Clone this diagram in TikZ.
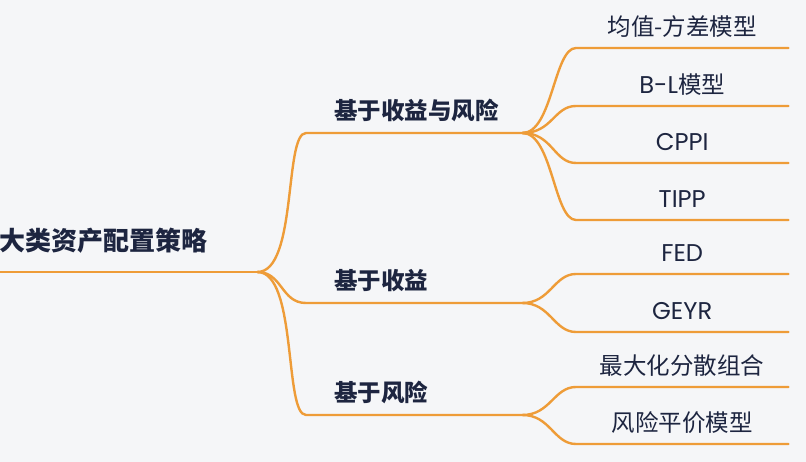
\documentclass[tikz,border=0pt]{standalone}
\usepackage{fontspec}
\setmainfont{Noto Sans CJK SC}
\newfontfamily\latinfont{Poppins}[Scale=1.03]
\definecolor{branchorange}{HTML}{EE9C38}
\definecolor{inkblue}{HTML}{1D2540}
\definecolor{paper}{HTML}{F5F6F8}

\begin{document}
\begin{tikzpicture}[x=1pt, y=-1pt,
    line/.style={branchorange, line width=2.4pt, line cap=round},
    rootbox/.style={anchor=south west, text width=258pt, align=left, inner xsep=0pt,
        inner ysep=21pt, text depth=0pt, text=inkblue,
        font=\fontsize{26}{30}\selectfont\bfseries},
    topic/.style={anchor=south west, text width=216pt, align=left, inner xsep=0pt,
        inner ysep=13pt, text depth=0pt, text=inkblue,
        font=\fontsize{23.5}{28}\selectfont\bfseries,
        execute at begin node=\hspace*{28pt}},
    leaf/.style={anchor=south west, text width=212pt, align=center, inner xsep=0pt,
        inner ysep=12pt, text depth=0pt, text=inkblue,
        font=\fontsize{23.5}{28}\selectfont}]
    \fill[paper] (0,0) rectangle (806,462);
    \useasboundingbox (0,0) rectangle (806,462);

    % root and the three groups
    \node[rootbox] (asset) at (-1,272) {大类资产配置策略};
    \node[topic] (rr) at (306,133) {基于收益与风险};
    \node[topic] (ret) at (306,303) {基于收益};
    \node[topic] (risk) at (306,415) {基于风险};

    % models
    \node[leaf] (mv) at (576,48) {均值-方差模型};
    \node[leaf] (bl) at (576,106) {{\latinfont B-L}模型};
    \node[leaf] (cppi) at (576,163) {\latinfont CPPI};
    \node[leaf] (tipp) at (576,220) {\latinfont TIPP};
    \node[leaf] (fed) at (576,274) {\latinfont FED};
    \node[leaf] (geyr) at (576,332) {\latinfont GEYR};
    \node[leaf] (mdp) at (576,387) {最大化分散组合};
    \node[leaf] (rp) at (576,444) {风险平价模型};

    \draw[line] (asset.south west) -- (asset.south east);
    \draw[line] (asset.south east) .. controls +(40,0) and +(-22,0) .. (rr.south west) -- (rr.south east);
    \draw[line] (asset.south east) .. controls +(25,0) and +(-25,0) .. (ret.south west) -- (ret.south east);
    \draw[line] (asset.south east) .. controls +(40,0) and +(-22,0) .. (risk.south west) -- (risk.south east);

    \foreach \m in {mv,bl,cppi,tipp}
        \draw[line] (rr.south east) .. controls +(30,0) and +(-22,0) .. (\m.south west) -- (\m.south east);
    \foreach \m in {fed,geyr}
        \draw[line] (ret.south east) .. controls +(28,0) and +(-22,0) .. (\m.south west) -- (\m.south east);
    \foreach \m in {mdp,rp}
        \draw[line] (risk.south east) .. controls +(28,0) and +(-22,0) .. (\m.south west) -- (\m.south east);
\end{tikzpicture}
\end{document}
